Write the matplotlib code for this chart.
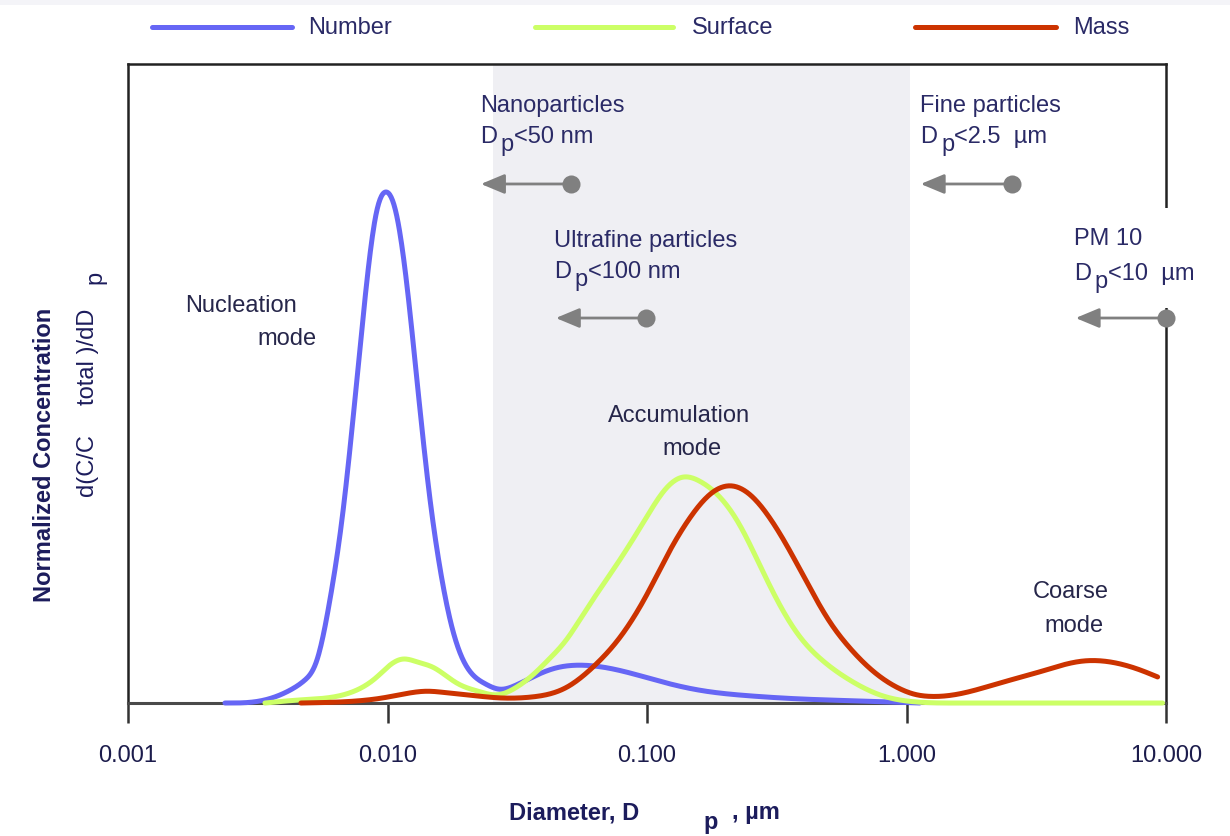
import numpy as np
import matplotlib
matplotlib.use('Agg')
import matplotlib.pyplot as plt
from matplotlib.lines import Line2D
from matplotlib.patches import Rectangle

plt.rcParams['font.family'] = ['Liberation Sans', 'DejaVu Sans']

# ---------------- data ----------------
number_d = [0.002364, 0.003225, 0.004207, 0.004806, 0.005346, 0.006000, 0.006673,
            0.007487, 0.008256, 0.009022, 0.009858, 0.01077, 0.01177, 0.01309,
            0.01457, 0.01592, 0.01739, 0.01900, 0.02077, 0.02372, 0.02710,
            0.03096, 0.03632, 0.04415, 0.05509, 0.07646, 0.1192, 0.1597, 0.2489,
            0.3877, 0.6601, 1.124]
number_c = [0.000, 0.004, 0.025, 0.045, 0.084, 0.202, 0.358, 0.593, 0.808, 0.955,
            1.000, 0.961, 0.835, 0.615, 0.400, 0.265, 0.165, 0.099, 0.062, 0.038,
            0.027, 0.034, 0.051, 0.068, 0.074, 0.065, 0.039, 0.025, 0.014, 0.008,
            0.004, 0.000]

surface_d = [0.003371, 0.004598, 0.007166, 0.009104, 0.01021, 0.01147, 0.01309,
             0.01496, 0.01850, 0.02270, 0.02639, 0.03096, 0.03632, 0.04178,
             0.04911, 0.05511, 0.06183, 0.07853, 0.09806, 0.1171, 0.1374, 0.1597,
             0.1908, 0.2278, 0.2720, 0.3248, 0.3877, 0.4630, 0.6041, 0.8096, 1.095,
             1.603, 9.70]
surface_c = [0.000, 0.006, 0.020, 0.051, 0.074, 0.086, 0.080, 0.070, 0.039, 0.022,
             0.016, 0.029, 0.055, 0.085, 0.125, 0.163, 0.202, 0.280, 0.358, 0.417,
             0.442, 0.434, 0.403, 0.348, 0.270, 0.192, 0.130, 0.088, 0.045, 0.014,
             0.002, 0.000, 0.000]

mass_d = [0.004638, 0.006556, 0.009601, 0.01167, 0.01418, 0.01693, 0.02022,
          0.02710, 0.03632, 0.04911, 0.06183, 0.07853, 0.09982, 0.1224, 0.1462,
          0.1746, 0.2084, 0.2489, 0.2972, 0.3549, 0.4237, 0.5060, 0.6041, 0.7216,
          0.8243, 0.9417, 1.076, 1.228, 1.603, 2.286, 3.260, 4.771, 6.451, 7.913,
          9.282]
mass_c = [0.000, 0.002, 0.010, 0.018, 0.023, 0.020, 0.016, 0.010, 0.012, 0.031,
          0.070, 0.128, 0.212, 0.298, 0.362, 0.408, 0.425, 0.408, 0.362, 0.298,
          0.226, 0.159, 0.108, 0.068, 0.045, 0.028, 0.017, 0.013, 0.018, 0.039,
          0.061, 0.082, 0.078, 0.065, 0.051]

series_names = ['Number', 'Surface', 'Mass']
series_colors = ['#6666f5', '#ccff66', '#cc3300']

tick_values = [0.001, 0.01, 0.1, 1.0, 10.0]
tick_labels = ['0.001', '0.010', '0.100', '1.000', '10.000']

shade_range = (0.0255, 1.03)

# size-class cut-offs (circle) and arrow tips
cut_labels = ['Nanoparticles', 'Ultrafine particles', 'Fine particles', 'PM 10']
cut_rest = ['<50 nm', '<100 nm', '<2.5  µm', '<10  µm']
cut_d = [0.05087, 0.0989, 2.54, 10.0]
cut_tip = [0.02291, 0.04453, 1.134, 4.485]
cut_y = [1.0157, 0.7534, 1.0157, 0.7534]
cut_text_x = [0.0227, 0.04375, 1.131, 4.406]
cut_text_y1 = [1.1566, 0.8924, 1.1566, 0.8963]
cut_text_y2 = [1.0959, 0.8317, 1.0959, 0.8278]

mode_text = ['Nucleation', 'mode', 'Accumulation', 'mode', 'Coarse', 'mode']
mode_x = [0.002736, 0.004115, 0.1331, 0.1494, 4.290, 4.406]
mode_y = [0.7652, 0.7006, 0.5499, 0.4853, 0.2055, 0.1389]


def cspline(x, y, xn):
    """Natural cubic spline (used only to draw a smooth line through the points)."""
    x = np.asarray(x, float)
    y = np.asarray(y, float)
    n = len(x)
    h = np.diff(x)
    A = np.zeros((n, n))
    b = np.zeros(n)
    A[0, 0] = 1.0
    A[-1, -1] = 1.0
    for i in range(1, n - 1):
        A[i, i - 1] = h[i - 1]
        A[i, i] = 2 * (h[i - 1] + h[i])
        A[i, i + 1] = h[i]
        b[i] = 3 * ((y[i + 1] - y[i]) / h[i] - (y[i] - y[i - 1]) / h[i - 1])
    c = np.linalg.solve(A, b)
    bc = (y[1:] - y[:-1]) / h - h * (2 * c[:-1] + c[1:]) / 3
    dc = (c[1:] - c[:-1]) / (3 * h)
    idx = np.clip(np.searchsorted(x, xn) - 1, 0, n - 2)
    dx = xn - x[idx]
    return y[idx] + bc[idx] * dx + c[idx] * dx**2 + dc[idx] * dx**3


W, H = 1230, 836
fig = plt.figure(figsize=(W / 100, H / 100), dpi=100)
fig.patch.set_facecolor('white')
fig.add_artist(Rectangle((0, 1 - 5 / H), 1, 5 / H, transform=fig.transFigure,
                         facecolor='#f4f4f8', edgecolor='none'))

ax = fig.add_axes([128 / W, 1 - 703 / H, (1166 - 128) / W, (703 - 64) / H])
ax.set_xscale('log')
ax.set_xlim(0.001, 10)
ax.set_ylim(0, 1.2505)

ax.axvspan(shade_range[0], shade_range[1], color='#efeff3', zorder=0, lw=0)

txt_col = '#2a2a66'
fs = 17

for dd, cc, col in zip([number_d, surface_d, mass_d], [number_c, surface_c, mass_c],
                       series_colors):
    lx = np.log10(dd)
    xn = np.linspace(lx[0], lx[-1], 1000)
    yn = np.clip(cspline(lx, cc, xn), 0, None)
    ax.plot(10 ** xn, yn, color=col, lw=3.6, solid_capstyle='round',
            zorder=3, clip_on=False)

# spines & ticks
for s in ['left', 'top', 'right']:
    ax.spines[s].set_color('#222222')
    ax.spines[s].set_linewidth(1.8)
ax.spines['bottom'].set_color('#4a4a4a')
ax.spines['bottom'].set_linewidth(2.2)
ax.set_yticks([])
ax.set_xticks(tick_values)
ax.set_xticklabels(tick_labels)
ax.xaxis.set_minor_locator(matplotlib.ticker.NullLocator())
ax.tick_params(axis='x', direction='out', length=14.4, width=1.8, color='#333333',
               pad=16, labelsize=fs, labelcolor='#1c1c4c')

# white box behind PM10 text (breaks the right spine)
ax.add_patch(Rectangle((3.9, 0.773), 11.5 - 3.9, 0.969 - 0.773, facecolor='white',
                       edgecolor='none', zorder=4, clip_on=False))

# cut-off arrows and labels
for lab, rest, cd, tip, cy, tx, ty1, ty2 in zip(cut_labels, cut_rest, cut_d, cut_tip,
                                                 cut_y, cut_text_x, cut_text_y1,
                                                 cut_text_y2):
    ax.annotate('', xy=(tip, cy), xytext=(cd, cy),
                arrowprops=dict(arrowstyle='-|>,head_length=0.6,head_width=0.25',
                                mutation_scale=24, color='#808080', lw=2.0,
                                shrinkA=0, shrinkB=0), zorder=6, annotation_clip=False)
    ax.plot([cd], [cy], 'o', ms=13, color='#808080', zorder=7, clip_on=False,
            markeredgewidth=0)
    ax.text(tx, ty1, lab, fontsize=fs, color=txt_col, ha='left', va='baseline',
            zorder=5)
    ax.annotate('D', (tx, ty2), xytext=(0, 0), textcoords='offset points',
                fontsize=fs, color=txt_col, ha='left', va='baseline', zorder=5)
    ax.annotate('p', (tx, ty2), xytext=(15, -5.8), textcoords='offset points',
                fontsize=fs, color=txt_col, ha='left', va='baseline', zorder=5)
    ax.annotate(rest, (tx, ty2), xytext=(24.5, 0), textcoords='offset points',
                fontsize=fs, color=txt_col, ha='left', va='baseline', zorder=5)

for t, mx, my in zip(mode_text, mode_x, mode_y):
    ax.text(mx, my, t, fontsize=fs, color='#26264a', ha='center', va='baseline',
            zorder=5)

# axis labels (pieces, positioned in pixels)
def ftext(xp, yp, s, **kw):
    fig.text(xp / W, 1 - yp / H, s, ha='center', va='center', **kw)

lab_col = '#1c1c5c'
ftext(574, 813, 'Diameter, D', fontsize=fs, fontweight='bold', color=lab_col)
ftext(711, 823, 'p', fontsize=fs, fontweight='bold', color=lab_col)
ftext(756, 813, ', µm', fontsize=fs, fontweight='bold', color=lab_col)

ftext(45, 455, 'Normalized Concentration', fontsize=fs, fontweight='bold',
      color=lab_col, rotation=90)
ftext(87, 465, 'd(C/C', fontsize=fs, color=lab_col, rotation=90)
ftext(88, 357, 'total )/dD', fontsize=fs, color=lab_col, rotation=90)
ftext(95, 277, 'p', fontsize=fs, color=lab_col, rotation=90)

# legend (manual, top of figure)
leg_lines = [(152, 292), (535, 673), (915, 1056)]
leg_text_x = [308, 692, 1073]
for (x0, x1), tx, name, col in zip(leg_lines, leg_text_x, series_names, series_colors):
    fig.add_artist(Line2D([x0 / W, x1 / W], [1 - 27 / H, 1 - 27 / H],
                          transform=fig.transFigure, color=col, lw=3.6,
                          solid_capstyle='round'))
    fig.text(tx / W, 1 - 28 / H, name, fontsize=fs, color=txt_col, ha='left',
             va='center')

fig.savefig('out.png', dpi=100)
